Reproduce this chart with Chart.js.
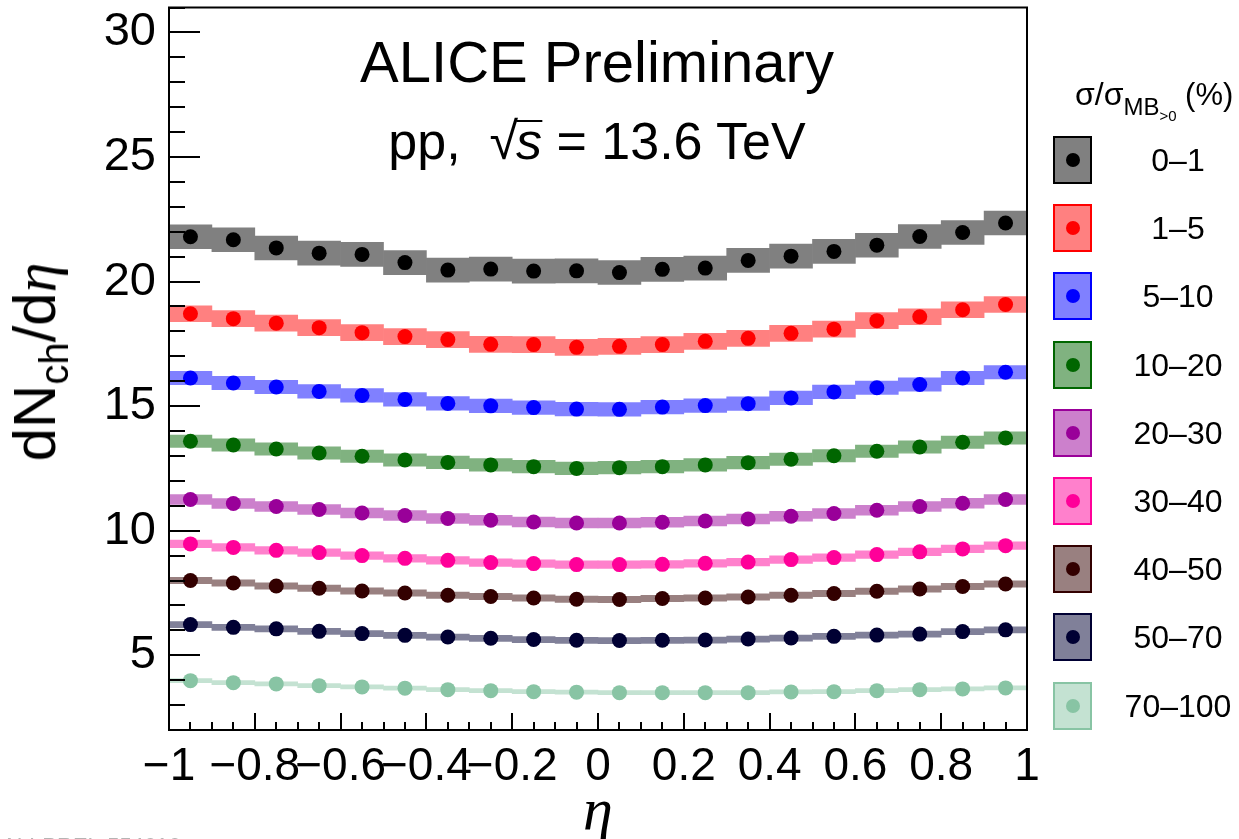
<!DOCTYPE html>
<html><head><meta charset="utf-8">
<script src="https://cdn.jsdelivr.net/npm/chart.js@4.4.1/dist/chart.umd.min.js"></script>
<style>
html,body{margin:0;padding:0;background:#fff;overflow:hidden;}
#wrap{position:relative;width:1239px;height:839px;overflow:hidden;font-family:"Liberation Sans",Arial,Helvetica,sans-serif;color:#000;}
#c{position:absolute;left:0;top:0;}
.t{position:absolute;white-space:nowrap;line-height:1;}
</style></head><body>
<div id="wrap">
<canvas id="c" width="1239" height="839"></canvas>
<div class="t" style="left:597px;top:33px;font-size:58px;transform:translateX(-50%);">ALICE Preliminary</div>
<div class="t" style="left:597px;top:115px;font-size:52px;transform:translateX(-50%);">pp,&nbsp; <span style="font-size:52px;">√</span><span style="display:inline-block;border-top:2px solid #000;line-height:0.75em;font-style:italic;margin-left:-2px;">s</span> = 13.6 TeV</div>
<div class="t" style="left:35px;top:362px;font-size:60px;transform:translate(-50%,-50%) rotate(-90deg);">dN<span style="font-size:40px;position:relative;top:13px;">ch</span>/d<span style="font-family:'Liberation Serif',serif;font-style:italic;">η</span></div>
<div class="t" style="left:598px;top:779px;font-size:60px;font-family:'Liberation Serif',serif;font-style:italic;transform:translateX(-50%);">η</div>
<div class="t" style="left:2px;top:835px;font-size:22px;color:#b4b4b4;">ALI-PREL-554616</div>
<div class="t" style="left:1075px;top:78px;font-size:32px;">σ/σ<span style="font-size:24px;position:relative;top:10px;">MB<span style="font-size:15px;position:relative;top:6px;">&gt;0</span></span><span style="font-size:31px;"> (%)</span></div>
<div id="legend"></div>
</div>
<script>
// ---- data ----
const eta = [-0.95,-0.85,-0.75,-0.65,-0.55,-0.45,-0.35,-0.25,-0.15,-0.05,0.05,0.15,0.25,0.35,0.45,0.55,0.65,0.75,0.85,0.95];
const c0_1   = [21.80,21.68,21.35,21.14,21.09,20.76,20.46,20.50,20.42,20.43,20.36,20.49,20.54,20.85,21.02,21.21,21.46,21.81,21.97,22.35];
const c1_5   = [18.71,18.51,18.33,18.15,17.95,17.79,17.67,17.48,17.47,17.36,17.40,17.47,17.60,17.72,17.92,18.09,18.43,18.59,18.87,19.08];
const c5_10  = [16.13,15.93,15.77,15.59,15.43,15.27,15.11,15.01,14.94,14.88,14.87,14.96,15.02,15.10,15.33,15.57,15.74,15.87,16.13,16.36];
const c10_20 = [13.59,13.44,13.28,13.12,12.99,12.84,12.74,12.64,12.57,12.50,12.53,12.57,12.64,12.73,12.87,13.01,13.19,13.36,13.55,13.72];
const c20_30 = [11.25,11.09,10.97,10.85,10.71,10.61,10.49,10.42,10.35,10.31,10.31,10.34,10.39,10.47,10.58,10.69,10.82,10.97,11.10,11.25];
const c30_40 = [9.47,9.33,9.21,9.12,9.00,8.89,8.81,8.72,8.68,8.64,8.64,8.65,8.69,8.74,8.84,8.92,9.04,9.15,9.27,9.40];
const c40_50 = [8.00,7.90,7.78,7.69,7.58,7.50,7.41,7.36,7.30,7.25,7.24,7.28,7.30,7.34,7.41,7.48,7.57,7.66,7.76,7.86];
const c50_70 = [6.23,6.12,6.06,5.96,5.87,5.80,5.73,5.68,5.63,5.60,5.59,5.60,5.61,5.65,5.69,5.76,5.81,5.85,5.95,6.02];
const c70_100= [3.98,3.90,3.85,3.78,3.73,3.68,3.62,3.58,3.54,3.52,3.50,3.50,3.50,3.50,3.53,3.54,3.58,3.62,3.65,3.69];
const classLabels = ['0–1','1–5','5–10','10–20','20–30','30–40','40–50','50–70','70–100'];
const sysErr = [0.48,0.32,0.27,0.25,0.20,0.15,0.13,0.12,0.08];
const yTickValues = [5,10,15,20,25,30];
const yTickLabels = ['5','10','15','20','25','30'];
const xTickValues = [-1,-0.8,-0.6,-0.4,-0.2,0,0.2,0.4,0.6,0.8,1];
const xTickLabels = ['−1','−0.8','−0.6','−0.4','−0.2','0','0.2','0.4','0.6','0.8','1'];

const series = [c0_1,c1_5,c5_10,c10_20,c20_30,c30_40,c40_50,c50_70,c70_100];
const markerColors = ['#000000','#ff0000','#0000ff','#006600','#990099','#ff0099','#330000','#000033','#88c4a4'];
const boxColors    = ['#808080','#ff8080','#8080ff','#80b280','#cc80cc','#ff80cc','#998080','#808099','#c4e2d2'];

// ---- legend (HTML) ----
const leg = document.getElementById('legend');
classLabels.forEach((lab,i)=>{
  const top = 136 + i*68.2;
  const b = document.createElement('div');
  b.style.cssText = `position:absolute;left:1053px;top:${top}px;width:39px;height:48px;box-sizing:border-box;border:2px solid ${markerColors[i]};background:${boxColors[i]};`;
  const d = document.createElement('div');
  d.style.cssText = `position:absolute;left:50%;top:50%;width:14px;height:14px;margin:-7px 0 0 -7px;border-radius:50%;background:${markerColors[i]};`;
  b.appendChild(d); leg.appendChild(b);
  const t = document.createElement('div');
  t.className='t';
  t.style.cssText += `left:1108px;width:140px;text-align:center;top:${top}px;height:48px;line-height:48px;font-size:32px;`;
  t.textContent = lab; leg.appendChild(t);
});

// ---- datasets ----
const datasets = [];
series.forEach((s,i)=>{
  datasets.push({type:'bar', data: eta.map((e,j)=>({x:e, y:[s[j]-sysErr[i], s[j]+sysErr[i]]})),
    backgroundColor: boxColors[i], borderWidth:0, grouped:false, barPercentage:1, categoryPercentage:1, order:2});
  datasets.push({type:'scatter', data: eta.map((e,j)=>({x:e, y:s[j]})), showLine:false,
    pointBackgroundColor: markerColors[i], pointBorderColor: markerColors[i], pointBorderWidth:0,
    pointRadius:7.5, pointHoverRadius:7.5, order:1});
});

const frameTicks = {
  id:'frameTicks',
  afterDatasetsDraw(chart){
    const {ctx, chartArea:a, scales:{x,y}} = chart;
    ctx.save();
    ctx.strokeStyle='#000'; ctx.lineWidth=2; ctx.lineCap='butt';
    ctx.beginPath();
    for (let v=2; v<=31; v+=1){
      const p = Math.round(y.getPixelForValue(v));
      const len = yTickValues.includes(v) ? 31 : 16;
      ctx.moveTo(a.left, p); ctx.lineTo(a.left+len, p);
    }
    for (let k=0; k<=40; k++){
      const v = -1 + k*0.05;
      const p = Math.round(x.getPixelForValue(v));
      const len = (k%4===0) ? 17 : 8;
      ctx.moveTo(p, a.bottom); ctx.lineTo(p, a.bottom-len);
    }
    ctx.stroke();
    ctx.strokeRect(a.left, a.top, a.right-a.left, a.bottom-a.top);
    ctx.restore();
  }
};

new Chart(document.getElementById('c'), {
  type:'scatter',
  data:{datasets},
  options:{
    responsive:false, animation:false, devicePixelRatio:1, events:[],
    layout:{padding:{top:6,right:212,left:0,bottom:0}},
    plugins:{legend:{display:false}, tooltip:{enabled:false}},
    scales:{
      x:{type:'linear', min:-1, max:1, offset:false,
         grid:{display:false, drawTicks:false, offset:false}, border:{display:false},
         afterBuildTicks:(s)=>{ s.ticks = xTickValues.map(v=>({value:v})); },
         afterFit:(s)=>{ s.height = 109; s.paddingLeft = 0; s.paddingRight = 0; },
         ticks:{autoSkip:false, maxRotation:0, minRotation:0, padding:10, color:'#000',
           font:{family:'"Liberation Sans", Arial, sans-serif', size:46},
           callback:(v,i)=>xTickLabels[i]}},
      y:{type:'linear', min:2, max:31, beginAtZero:false,
         grid:{display:false, drawTicks:false}, border:{display:false},
         afterBuildTicks:(s)=>{ s.ticks = yTickValues.map(v=>({value:v})); },
         afterFit:(s)=>{ s.width = 169; s.paddingTop = 0; s.paddingBottom = 0; },
         ticks:{padding:13, color:'#000',
           font:{family:'"Liberation Sans", Arial, sans-serif', size:47},
           callback:(v,i)=>yTickLabels[i]}}
    }
  },
  plugins:[frameTicks]
});
</script>
</body></html>
